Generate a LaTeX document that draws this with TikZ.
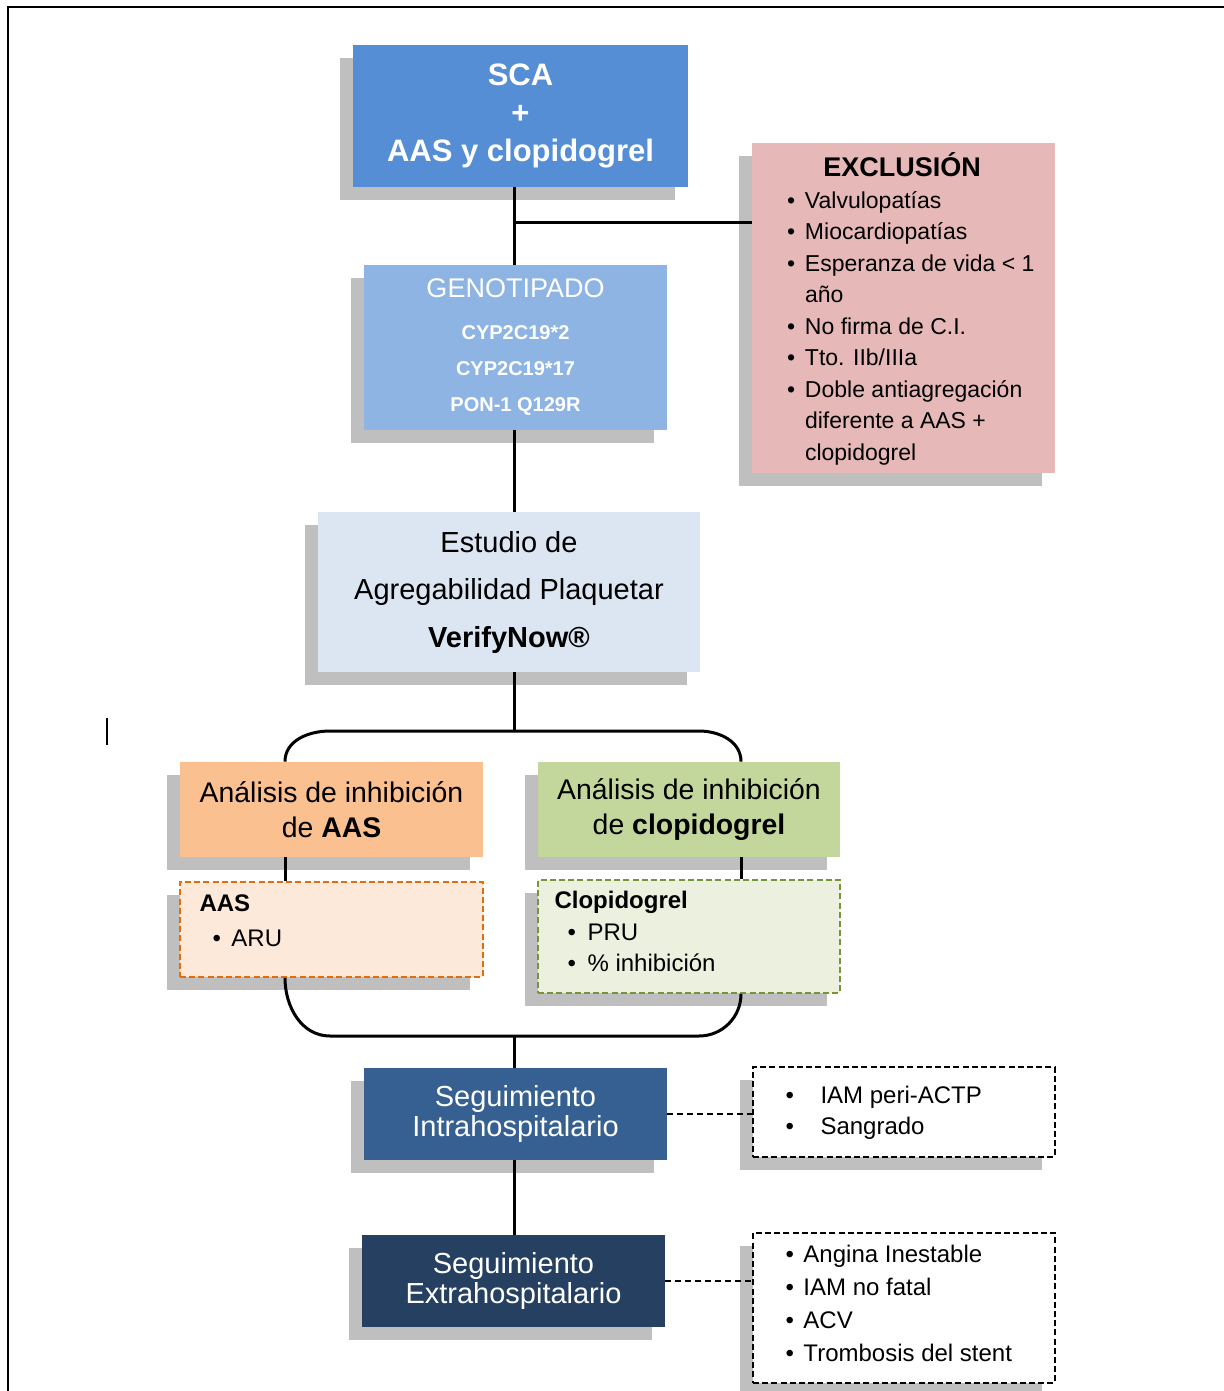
\documentclass[tikz,border=0pt]{standalone}
\usepackage{fontspec}
\setmainfont{Liberation Sans}
\usetikzlibrary{calc,shadows}
\definecolor{scaBlue}{HTML}{558ED5}
\definecolor{genoBlue}{HTML}{8EB4E3}
\definecolor{estBlue}{HTML}{DCE6F2}
\definecolor{exclPink}{HTML}{E6B9B8}
\definecolor{aasOrange}{HTML}{FAC090}
\definecolor{aasLight}{HTML}{FCE9DA}
\definecolor{aasLine}{HTML}{E46C0A}
\definecolor{clopGreen}{HTML}{C3D69B}
\definecolor{clopLight}{HTML}{EBF1DE}
\definecolor{clopLine}{HTML}{77933C}
\definecolor{intraBlue}{HTML}{376092}
\definecolor{extraBlue}{HTML}{254061}
\definecolor{shadowGray}{HTML}{BFBFBF}
\tikzset{%
  box/.style={rectangle,inner sep=0pt,align=center,
    drop shadow={shadow xshift=-6.5pt,shadow yshift=-6.5pt,fill=shadowGray,opacity=1}},
  dashbox/.style={box,draw,line width=0.9pt,dash pattern=on 3pt off 1.6pt},
  conn/.style={line width=1.5pt,black},
  dconn/.style={line width=0.8pt,dash pattern=on 3pt off 2pt},
  listtext/.style={anchor=north west,inner sep=0pt,align=left}
}
\newcommand{\bul}[1]{\makebox[#1][l]{\textbullet}}

\begin{document}
\begin{tikzpicture}[x=0.5pt,y=-0.5pt]
  \useasboundingbox (0,0) rectangle (1224,1391);
  \draw[line width=1.2pt] (8,1391) -- (8,7) -- (1224,7);
  \draw[line width=0.8pt] (107,718) -- (107,745);

  % boxes
  \node[box,fill=scaBlue,text=white,minimum width=167.5pt,minimum height=71pt,
        font=\fontsize{15.5}{19}\selectfont\bfseries] (sca) at (520.5,116)
        {SCA\\+\\AAS y clopidogrel};
  \node[box,fill=exclPink,minimum width=151.5pt,minimum height=165pt] (excl) at (903.5,308) {};
  \node[listtext,font=\fontsize{11.5}{15.75}\selectfont] (exclT) at ($(excl.north west)+(35,10)$)
        {\makebox[115pt]{\fontsize{13.5}{15.75}\selectfont\bfseries EXCLUSIÓN}\\
         \bul{9pt}Valvulopatías\\
         \bul{9pt}Miocardiopatías\\
         \bul{9pt}Esperanza de vida < 1\\
         \hspace*{9pt}año\\
         \bul{9pt}No firma de C.I.\\
         \bul{9pt}Tto. IIb/IIIa\\
         \bul{9pt}Doble antiagregación\\
         \hspace*{9pt}diferente a AAS +\\
         \hspace*{9pt}clopidogrel};
  \node[box,fill=genoBlue,text=white,minimum width=151.5pt,minimum height=82.5pt,
        font=\fontsize{10}{18}\selectfont\bfseries] (geno) at (515.5,347.5)
        {{\fontsize{13.5}{18}\selectfont\mdseries GENOTIPADO}\\[3pt]CYP2C19*2\\CYP2C19*17\\PON-1 Q129R};
  \node[box,fill=estBlue,minimum width=191pt,minimum height=80pt,
        font=\fontsize{14.5}{23.75}\selectfont] (est) at (509,592)
        {Estudio de\\Agregabilidad Plaquetar\\\textbf{VerifyNow®}};

  \node[box,fill=aasOrange,minimum width=151.5pt,minimum height=47.5pt,
        font=\fontsize{14.2}{17.5}\selectfont] (aasA) at (331.5,809.5)
        {Análisis de inhibición\\de \textbf{AAS}};
  \node[box,fill=clopGreen,minimum width=151pt,minimum height=47.5pt,
        font=\fontsize{14.2}{17.5}\selectfont] (clopA) at (689,809.5)
        {Análisis de inhibición\\de \textbf{clopidogrel}};
  \node[dashbox,draw=aasLine,fill=aasLight,minimum width=151.5pt,minimum height=47.5pt] (aasL) at (331.5,929.5) {};
  \node[listtext,font=\fontsize{12}{17.5}\selectfont] (aasT) at ($(aasL.north west)+(20,13)$)
        {\textbf{AAS}\\\hspace*{6.5pt}\bul{9.5pt}ARU};
  \node[dashbox,draw=clopLine,fill=clopLight,minimum width=151pt,minimum height=56.5pt] (clopL) at (689,936.5) {};
  \node[listtext,font=\fontsize{12}{15.75}\selectfont] (clopT) at ($(clopL.north west)+(17,12)$)
        {\textbf{Clopidogrel}\\\hspace*{6.5pt}\bul{10pt}PRU\\\hspace*{6.5pt}\bul{10pt}\% inhibición};

  \node[box,fill=intraBlue,text=white,minimum width=151.5pt,minimum height=46pt,
        font=\fontsize{14.5}{15}\selectfont] (intra) at (515.5,1114)
        {Seguimiento\\Intrahospitalario};
  \node[dashbox,draw=black,fill=white,minimum width=151pt,minimum height=45pt] (intraL) at (904,1112) {};
  \node[listtext,font=\fontsize{12}{15.5}\selectfont] (intraT) at ($(intraL.north west)+(33,20)$)
        {\bul{17.5pt}IAM peri-ACTP\\\bul{17.5pt}Sangrado};
  \node[box,fill=extraBlue,text=white,minimum width=151.5pt,minimum height=46pt,
        font=\fontsize{14.5}{15}\selectfont] (extra) at (513.5,1281)
        {Seguimiento\\Extrahospitalario};
  \node[dashbox,draw=black,fill=white,minimum width=151pt,minimum height=75pt] (extraL) at (904,1308) {};
  \node[listtext,font=\fontsize{12}{16.5}\selectfont] (extraT) at ($(extraL.north west)+(33,13)$)
        {\bul{9pt}Angina Inestable\\\bul{9pt}IAM no fatal\\\bul{9pt}ACV\\\bul{9pt}Trombosis del stent};

  % connectors
  \coordinate (junc) at (514,223);
  \coordinate (brL) at (285,0);
  \coordinate (brR) at (741,0);
  \coordinate (topY) at (0,731);
  \coordinate (botY) at (0,1036);
  \draw[conn] (sca.south -| junc) -- (geno.north -| junc);
  \draw[conn] (junc) -- (junc -| excl.west);
  \draw[conn] (geno.south -| junc) -- (est.north -| junc);
  \draw[conn] (est.south -| junc) -- (junc |- topY);
  \draw[conn] (aasA.north -| brL) to[out=90,in=180] ($(brL |- topY)+(45,0)$)
    -- ($(brR |- topY)+(-42,0)$) to[out=0,in=90] (clopA.north -| brR);
  \draw[conn] (aasA.south -| brL) -- (aasL.north -| brL);
  \draw[conn] (clopA.south -| brR) -- (clopL.north -| brR);
  \draw[conn] (aasL.south -| brL) to[out=-90,in=180] ($(brL |- botY)+(45,0)$)
    -- ($(brR |- botY)+(-42,0)$) to[out=0,in=-90] (clopL.south -| brR);
  \draw[conn] (junc |- botY) -- (intra.north -| junc);
  \draw[conn] (intra.south -| junc) -- (extra.north -| junc);
  \draw[dconn] (intra.east) -- (intra.east -| intraL.west);
  \draw[dconn] (extra.east) -- (extra.east -| extraL.west);
\end{tikzpicture}
\end{document}
